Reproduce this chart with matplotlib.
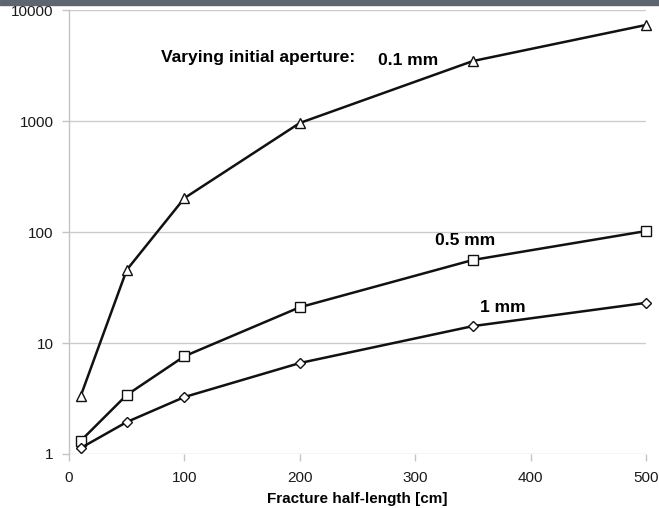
import matplotlib
matplotlib.use("Agg")
import matplotlib.pyplot as plt
from matplotlib.patches import Rectangle

plt.rcParams["font.family"] = ["Liberation Sans", "DejaVu Sans"]

half_length = [10, 50, 100, 200, 350, 500]
ap_01mm = [3.3, 45.5, 202, 960, 3470, 7330]
ap_05mm = [1.31, 3.4, 7.6, 21, 56, 102]
ap_1mm = [1.13, 1.94, 3.26, 6.6, 14.2, 23]

x_ticks = [0, 100, 200, 300, 400, 500]
y_ticks = [1, 10, 100, 1000, 10000]

fig = plt.figure(figsize=(6.59, 5.08), dpi=100)
ax = fig.add_axes([0.1047, 0.1063, 0.8756, 0.874])

# dark strip along the top edge
fig.patches.append(Rectangle((0, 0.991), 1, 0.009, transform=fig.transFigure,
                             color="#5d6571", zorder=0))

line_kw = dict(color="#111111", linewidth=1.8, markerfacecolor="white",
               markeredgecolor="#111111", markeredgewidth=1.0, zorder=3,
               clip_on=False)
ax.plot(half_length, ap_01mm, marker="^", markersize=7, **line_kw)
ax.plot(half_length, ap_05mm, marker="s", markersize=6.5, **line_kw)
ax.plot(half_length, ap_1mm, marker="D", markersize=5.5, **line_kw)

ax.set_yscale("log")
ax.set_xlim(0, 500)
ax.set_ylim(1, 10000)
ax.set_xticks(x_ticks)
ax.set_xticklabels([str(v) for v in x_ticks])
ax.set_yticks(y_ticks)
ax.set_yticklabels([str(v) for v in y_ticks])
ax.minorticks_off()

ax.grid(axis="y", color="#cccccc", linewidth=1.0)
ax.set_axisbelow(True)
for side in ("top", "right", "bottom"):
    ax.spines[side].set_visible(False)
ax.spines["left"].set_color("#c4c4c4")
ax.spines["left"].set_linewidth(1.0)
ax.tick_params(axis="both", labelsize=11, colors="#c4c4c4",
               labelcolor="#1a1a1a", length=5, width=1.0)
ax.tick_params(axis="y", pad=6)
ax.tick_params(axis="x", pad=7)

ax.set_xlabel("Fracture half-length [cm]", fontsize=11, fontweight="bold",
              labelpad=5)

ax.text(80, 3700, "Varying initial aperture:", fontsize=12.6,
        fontweight="bold", va="center", ha="left")
ax.text(268, 3540, "0.1 mm", fontsize=12.6, fontweight="bold",
        va="center", ha="left")
ax.text(317, 83, "0.5 mm", fontsize=12.6, fontweight="bold",
        va="center", ha="left")
ax.text(356, 21, "1 mm", fontsize=12.6, fontweight="bold",
        va="center", ha="left")

fig.savefig("out.png", dpi=100)
